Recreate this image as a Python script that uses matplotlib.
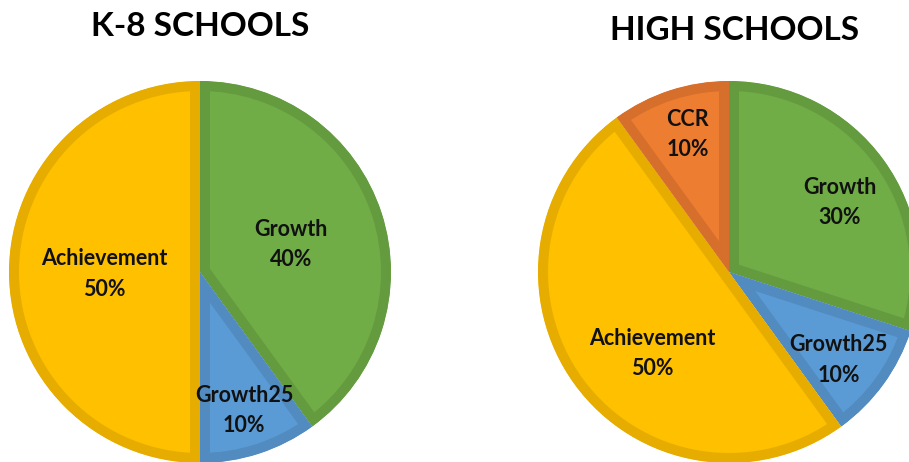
import numpy as np
import matplotlib
matplotlib.use("Agg")
from matplotlib import pyplot as plt

plt.rcParams['font.family'] = ['Lato', 'DejaVu Sans']

# K-8 schools
k8_labels = ["Growth", "Growth25", "Achievement"]
k8_values = [40, 10, 50]
k8_colors = ["#70AD47", "#5B9BD5", "#FFC000"]
k8_edges = ["#649B3F", "#518BC0", "#E6AD00"]
k8_label_dist = [0.50, 0.75, 0.50]
k8_label_turn = [0, 0, 0]

# high schools
hs_labels = ["Growth", "Growth25", "Achievement", "CCR"]
hs_values = [30, 10, 50, 10]
hs_colors = ["#70AD47", "#5B9BD5", "#FFC000", "#ED7D31"]
hs_edges = ["#649B3F", "#518BC0", "#E6AD00", "#D56F2B"]
hs_label_dist = [0.69, 0.73, 0.58, 0.76]
hs_label_turn = [-3, -2, 10, -1.5]

W, H = 909, 462
R = 191


def draw_pie(ax, labels, values, colors, edges, dists, turns, cx, cy, title, tx, ty):
    wedges, _ = ax.pie(values, colors=colors, startangle=90, counterclock=False,
                       center=(cx, cy), radius=R,
                       wedgeprops=dict(linewidth=14.4))
    for w, ec, lab, v, d, t in zip(wedges, edges, labels, values, dists, turns):
        w.set_edgecolor(ec)
        # pie turns clipping off; clip each wedge to itself so the border sits inside
        w.set_clip_on(True)
        w.set_clip_path(w)
        ang = np.deg2rad((w.theta1 + w.theta2) / 2 + t)
        ax.text(cx + d * R * np.cos(ang), cy + d * R * np.sin(ang) - 2,
                f"{lab}\n{v}%", ha="center", va="center", fontsize=15.5,
                fontweight="bold", linespacing=1.55, color="#111111")
    ax.text(tx, H - ty, title, ha="center", va="center", fontsize=24,
            fontweight="bold", color="#000000")


fig = plt.figure(figsize=(W / 100, H / 100), dpi=100)
ax = fig.add_axes([0, 0, 1, 1])
draw_pie(ax, k8_labels, k8_values, k8_colors, k8_edges, k8_label_dist, k8_label_turn,
         200, H - 272, "K-8 SCHOOLS", 200, 27)
draw_pie(ax, hs_labels, hs_values, hs_colors, hs_edges, hs_label_dist, hs_label_turn,
         729, H - 272, "HIGH SCHOOLS", 735, 31)
ax.set_xlim(0, W)
ax.set_ylim(0, H)
ax.set_aspect("equal")
ax.axis("off")

fig.savefig("out.png", dpi=100)
